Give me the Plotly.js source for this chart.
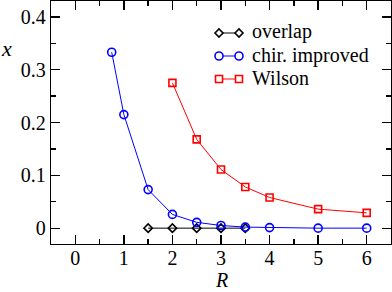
<!DOCTYPE html>
<html>
<head>
<meta charset="utf-8">
<script src="https://cdn.plot.ly/plotly-3.0.1.min.js"></script>
<style>html,body{margin:0;padding:0;background:#fff;}#chart{width:392px;height:292px;}</style>
</head>
<body>
<div id="chart"></div>
<script>
const overlapR = [1.5, 2, 2.5, 3, 3.5];
const overlapX = [0, 0, 0, 0, 0];
const chirR = [0.75, 1, 1.5, 2, 2.5, 3, 3.5, 4, 5, 6];
const chirX = [0.333, 0.215, 0.073, 0.026, 0.011, 0.005, 0.002, 0.001, 0.0, 0.0];
const wilsonR = [2, 2.5, 3, 3.5, 4, 5, 6];
const wilsonX = [0.275, 0.168, 0.111, 0.078, 0.058, 0.036, 0.029];
const names = ["overlap", "chir. improved", "Wilson"];
const colors = ["#000000", "#0000ff", "#ff0000"];

const FONT = "Liberation Serif";
const W = 392, H = 292;
const M = {l: 51, r: 1, t: 1, b: 48};
const PW = W - M.l - M.r, PH = H - M.t - M.b;
const px = v => (v - M.l) / PW;          // pixel x -> paper x
const py = v => (H - M.b - v) / PH;      // pixel y -> paper y

const traces = [
  {x: overlapR, y: overlapX, name: names[0], mode: "lines+markers",
   line: {color: colors[0], width: 1},
   marker: {symbol: "diamond-open", size: 6.5, color: colors[0], line: {width: 1.6, color: colors[0]}}},
  {x: chirR, y: chirX, name: names[1], mode: "lines+markers",
   line: {color: colors[1], width: 1},
   marker: {symbol: "circle-open", size: 8, color: colors[1], line: {width: 1.6, color: colors[1]}}},
  {x: wilsonR, y: wilsonX, name: names[2], mode: "lines+markers",
   line: {color: colors[2], width: 1},
   marker: {symbol: "square-open", size: 7, color: colors[2], line: {width: 1.6, color: colors[2]}}}
];

const axisCommon = {
  showline: true, linecolor: "#000", linewidth: 1.3, mirror: "allticks",
  ticks: "inside", ticklen: 9, tickwidth: 1.3, tickcolor: "#000",
  showgrid: false, zeroline: false,
  tickfont: {family: FONT, size: 20, color: "#000"}
};

// custom legend (two-marker keys), placed in pixel terms
const rowsY = [33, 56, 79];
const keyX0 = 219, keyX1 = 239, textX = 250;
const shapes = [], annotations = [];
const markerShape = (i, cx, cy) => {
  const base = {xref: "paper", yref: "paper", xsizemode: "pixel", ysizemode: "pixel",
    xanchor: px(cx), yanchor: py(cy), layer: "above",
    line: {color: colors[i], width: 1.6}, fillcolor: "#ffffff"};
  if (i === 0) return Object.assign(base, {type: "path", path: "M-4,0L0,4L4,0L0,-4Z"});
  if (i === 1) return Object.assign(base, {type: "circle", x0: -4, x1: 4, y0: -4, y1: 4});
  return Object.assign(base, {type: "rect", x0: -3.5, x1: 3.5, y0: -3.5, y1: 3.5});
};
names.forEach((n, i) => {
  const cy = rowsY[i];
  shapes.push({type: "line", xref: "paper", yref: "paper", layer: "above",
    x0: px(keyX0), x1: px(keyX1), y0: py(cy), y1: py(cy),
    line: {color: colors[i], width: 1}});
  shapes.push(markerShape(i, keyX0, cy));
  shapes.push(markerShape(i, keyX1, cy));
  annotations.push({text: n, xref: "paper", yref: "paper", x: px(textX), y: py(cy - 1),
    xanchor: "left", yanchor: "middle", showarrow: false,
    font: {family: FONT, size: 20, color: "#000"}});
});
annotations.push({text: "<i>x</i>", xref: "paper", yref: "paper", x: px(7), y: py(48),
  xanchor: "center", yanchor: "middle", showarrow: false,
  font: {family: FONT, size: 22, color: "#000"}});
annotations.push({text: "<i>R</i>", xref: "paper", yref: "paper", x: px(221), y: py(280),
  xanchor: "center", yanchor: "middle", showarrow: false, borderpad: 0,
  font: {family: FONT, size: 20, color: "#000"}});

const layout = {
  width: W, height: H, margin: M,
  paper_bgcolor: "#fff", plot_bgcolor: "#fff",
  font: {family: FONT, color: "#000"},
  showlegend: false,
  xaxis: Object.assign({}, axisCommon, {
    range: [-0.5, 6.5], dtick: 1, tick0: 0, ticklabelstandoff: -4,
    minor: {dtick: 0.5, ticks: "inside", ticklen: 5, tickwidth: 1.3, tickcolor: "#000"}
  }),
  yaxis: Object.assign({}, axisCommon, {
    range: [-0.03, 0.43], dtick: 0.1, tick0: 0,
    minor: {dtick: 0.05, ticks: "inside", ticklen: 5, tickwidth: 1.3, tickcolor: "#000"}
  }),
  shapes: shapes,
  annotations: annotations
};

Plotly.newPlot("chart", traces, layout, {displayModeBar: false, staticPlot: true});
</script>
</body>
</html>
